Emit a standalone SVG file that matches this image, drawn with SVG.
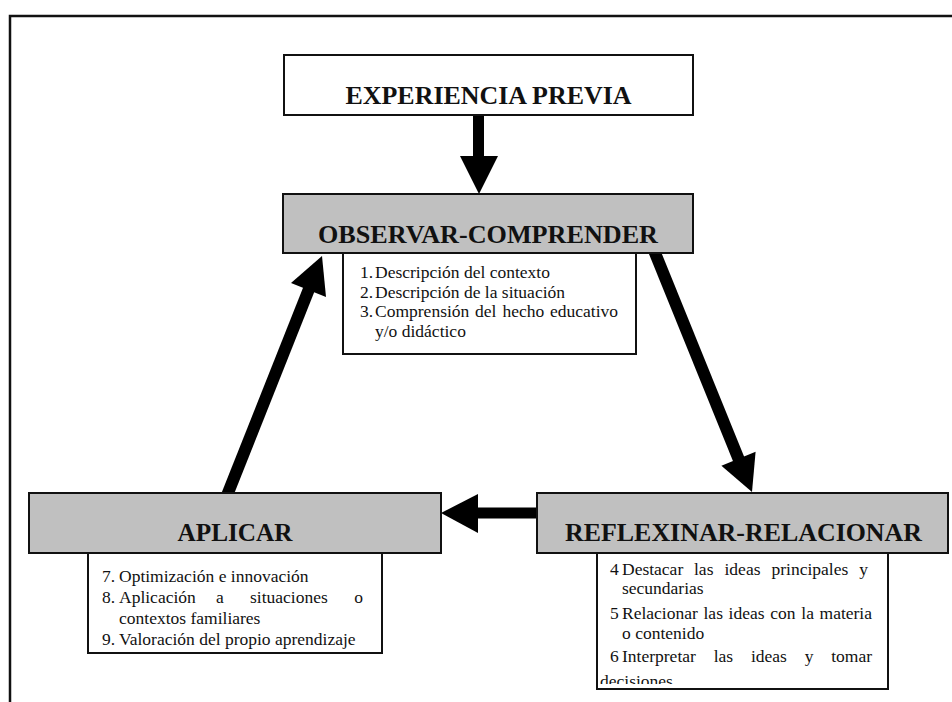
<svg xmlns="http://www.w3.org/2000/svg" width="952" height="702" viewBox="0 0 952 702">
<style>
  .frame{fill:none;stroke:#111;stroke-width:2.5}
  .white{fill:#fff;stroke:#111;stroke-width:2}
  .gray{fill:#c0c0c0;stroke:#111;stroke-width:2}
  .title{font-family:"Liberation Serif","Times New Roman",serif;font-weight:bold;font-size:26px;fill:#111;text-anchor:middle}
  .item{font-family:"Liberation Serif","Times New Roman",serif;font-size:17.5px;fill:#111}
  .end{text-anchor:end}
  .shaft{stroke:#000;stroke-width:12;fill:none}
  .head{fill:#000}
</style>
<defs>
  <clipPath id="clipR"><rect x="597" y="553" width="291" height="131"/></clipPath>
</defs>
<rect width="952" height="702" fill="#fff"/>
<path class="frame" d="M10,704 V16 H954"/>

<g id="connectors">
  <line class="shaft" x1="478.5" y1="112" x2="478.5" y2="157" style="stroke-width:11"/>
  <polygon class="head" points="460,156 498,156 479,194"/>
  <line class="shaft" x1="224" y1="503" x2="309" y2="289"/>
  <polygon class="head" points="322,256 291,283 326,297"/>
  <line class="shaft" x1="651" y1="243" x2="739" y2="460"/>
  <polygon class="head" points="752,492 721.4,465.7 755.6,451.7"/>
  <line class="shaft" x1="545" y1="513" x2="477" y2="513" style="stroke-width:11"/>
  <polygon class="head" points="478,494 478,533 441,513"/>
</g>

<g id="experiencia">
  <rect class="white" x="284" y="55" width="409" height="60"/>
  <text class="title" x="488.5" y="104" textLength="286" lengthAdjust="spacingAndGlyphs">EXPERIENCIA PREVIA</text>
</g>

<g id="observar">
  <rect class="gray" x="283" y="194" width="410" height="59"/>
  <text class="title" x="488" y="243" textLength="340" lengthAdjust="spacingAndGlyphs">OBSERVAR-COMPRENDER</text>
  <rect class="white" x="343" y="253" width="293" height="101"/>
  <text class="item" x="360" y="278">1.</text>
  <text class="item" x="375" y="278">Descripción del contexto</text>
  <text class="item" x="360" y="297.5">2.</text>
  <text class="item" x="375" y="297.5">Descripción de la situación</text>
  <text class="item" x="360" y="317">3.</text>
  <text class="item" x="375" y="317">Comprensión</text>
  <text class="item" x="475" y="317">del</text>
  <text class="item" x="502.5" y="317">hecho</text>
  <text class="item end" x="618" y="317">educativo</text>
  <text class="item" x="375" y="336.5">y/o didáctico</text>
</g>

<g id="aplicar">
  <rect class="gray" x="29" y="493" width="412" height="60"/>
  <text class="title" x="235" y="541" textLength="115" lengthAdjust="spacingAndGlyphs">APLICAR</text>
  <rect class="white" x="88" y="553" width="294" height="100"/>
  <text class="item" x="102" y="581.5">7.</text>
  <text class="item" x="119" y="581.5">Optimización e innovación</text>
  <text class="item" x="102" y="602.5">8.</text>
  <text class="item" x="119" y="602.5">Aplicación</text>
  <text class="item" x="216" y="602.5">a</text>
  <text class="item" x="250" y="602.5">situaciones</text>
  <text class="item end" x="363" y="602.5">o</text>
  <text class="item" x="119" y="623.5">contextos familiares</text>
  <text class="item" x="102" y="644.5">9.</text>
  <text class="item" x="119" y="644.5">Valoración del propio aprendizaje</text>
</g>

<g id="reflexionar">
  <rect class="gray" x="537" y="493" width="411" height="60"/>
  <text class="title" x="743.5" y="541" textLength="357" lengthAdjust="spacingAndGlyphs">REFLEXINAR-RELACIONAR</text>
  <rect class="white" x="597" y="553" width="291" height="136"/>
  <g clip-path="url(#clipR)">
    <text class="item" x="610" y="575">4</text>
    <text class="item" x="622" y="575">Destacar</text>
    <text class="item" x="694" y="575">las</text>
    <text class="item" x="724.5" y="575">ideas</text>
    <text class="item" x="771.5" y="575">principales</text>
    <text class="item end" x="868" y="575">y</text>
    <text class="item" x="622" y="594">secundarias</text>
    <text class="item" x="610" y="619">5</text>
    <text class="item" x="622" y="619">Relacionar</text>
    <text class="item" x="703.5" y="619">las</text>
    <text class="item" x="728.6" y="619">ideas</text>
    <text class="item" x="770.3" y="619">con</text>
    <text class="item" x="801.3" y="619">la</text>
    <text class="item end" x="872" y="619">materia</text>
    <text class="item" x="622" y="639">o contenido</text>
    <text class="item" x="610" y="662">6</text>
    <text class="item" x="622" y="662">Interpretar</text>
    <text class="item" x="713.7" y="662">las</text>
    <text class="item" x="750.9" y="662">ideas</text>
    <text class="item" x="804.7" y="662">y</text>
    <text class="item end" x="872" y="662">tomar</text>
    <text class="item" x="600" y="687">decisiones</text>
  </g>
</g>
</svg>
